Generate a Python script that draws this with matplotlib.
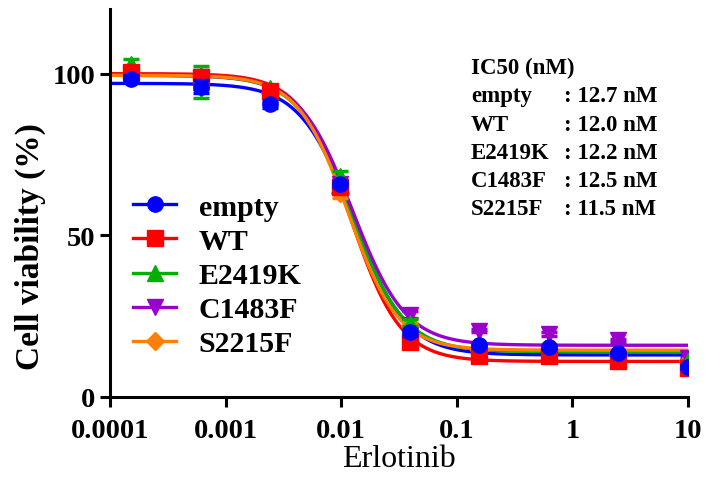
import numpy as np
import matplotlib.pyplot as plt

plt.rcParams['font.family'] = ['Liberation Serif', 'DejaVu Serif']

# Erlotinib concentrations (uM), 4-fold dilution
conc = [0.000153, 0.00061, 0.00244, 0.0098, 0.039, 0.156, 0.625, 2.5, 10]

names = ['empty', 'WT', 'E2419K', 'C1483F', 'S2215F']
colors = ['#0000ff', '#ff0000', '#00b000', '#9900cc', '#ff7f00']
markers = ['o', 's', '^', 'v', 'D']
msizes = [11, 11, 11, 11, 9]

viability = {
    'empty':  [98.5, 96.0, 90.5, 65.8, 20.0, 16.0, 15.5, 13.5, 9.3],
    'WT':     [100.5, 99.0, 94.5, 65.0, 17.0, 12.8, 12.6, 11.0, 9.0],
    'E2419K': [103.0, 97.5, 95.5, 68.5, 23.0, 15.5, 15.5, 13.5, 11.0],
    'C1483F': [100.0, 99.0, 94.0, 66.0, 25.5, 20.5, 19.5, 17.5, 12.0],
    'S2215F': [100.0, 99.0, 94.0, 63.0, 22.0, 14.5, 14.5, 13.0, 11.0],
}
errors = {
    'empty':  [1.0, 2.0, 1.0, 1.0, 1.0, 0.5, 0.5, 0.5, 0.5],
    'WT':     [2.0, 1.5, 1.0, 1.0, 1.0, 0.5, 0.5, 0.5, 0.5],
    'E2419K': [1.5, 5.0, 1.0, 1.5, 1.0, 0.5, 0.5, 0.5, 0.5],
    'C1483F': [1.0, 1.0, 1.0, 1.0, 1.0, 0.5, 0.5, 0.5, 0.5],
    'S2215F': [1.0, 1.0, 1.0, 1.5, 1.0, 0.5, 0.5, 0.5, 0.5],
}

# fitted 4PL parameters
ic50_nM = [12.7, 12.0, 12.2, 12.5, 11.5]
tops = [97.0, 100.0, 99.5, 99.5, 99.5]
bottoms = [13.0, 11.0, 14.0, 16.0, 14.5]
hill = [1.9, 2.0, 1.9, 1.9, 2.0]

fig = plt.figure(figsize=(7.08, 4.81), dpi=100)
ax = fig.add_axes([110 / 708, 83 / 481, 578 / 708, 388 / 481])

xs = np.logspace(-4, 1, 400)
order = [3, 4, 2, 1, 0]
for i in order:
    ic = ic50_nM[i] / 1000.0
    fit = bottoms[i] + (tops[i] - bottoms[i]) / (1 + (xs / ic) ** hill[i])
    ax.plot(xs, fit, color=colors[i], lw=2.4, zorder=2 + i * 0.01)
for i in order:
    n = names[i]
    ax.errorbar(conc, viability[n], yerr=errors[n], fmt=markers[i], color=colors[i],
                ms=msizes[i], capsize=6, elinewidth=2, capthick=2.5, zorder=3 + (5 - i) * 0.1)

# legend handles
handles = []
for i in range(5):
    h, = ax.plot([], [], color=colors[i], marker=markers[i], ms=msizes[i], lw=2.4)
    handles.append(h)
ax.legend(handles, names, loc='center left', bbox_to_anchor=(0.04, 0.313), frameon=False,
          prop={'weight': 'bold', 'size': 21.5}, handlelength=1.45, handletextpad=0.75,
          labelspacing=0.24, borderpad=0, borderaxespad=0)

ax.set_xscale('log')
ax.set_xlim(1e-4, 10)
ax.set_ylim(0, 120)
ax.set_xticks([1e-4, 1e-3, 1e-2, 1e-1, 1, 10])
ax.set_xticklabels(['0.0001', '0.001', '0.01', '0.1', '1', '10'])
ax.minorticks_off()
ax.set_yticks([0, 50, 100])
ax.tick_params(width=2.2, length=7, labelsize=20.5)
ax.tick_params(axis='x', pad=8)
for lbl in ax.get_xticklabels() + ax.get_yticklabels():
    lbl.set_fontweight('bold')
for s in ['top', 'right']:
    ax.spines[s].set_visible(False)
for s in ['left', 'bottom']:
    ax.spines[s].set_linewidth(2.2)

ax.set_xlabel('Erlotinib', fontsize=23)
ax.xaxis.set_label_coords(0.5, -0.122)
ax.set_ylabel('Cell viability (%)', fontsize=24, fontweight='bold')
ax.yaxis.set_label_coords(-0.11, 0.39)

# IC50 annotation
fig.text(471 / 708, 1 - 68 / 481, 'IC50 (nM)', fontsize=16.5, fontweight='bold', va='center')
for k, n in enumerate(names):
    y = 1 - (97 + k * 28.2) / 481
    fig.text(471 / 708, y, n, fontsize=16.5, fontweight='bold', va='center')
    fig.text(564 / 708, y, ': %.1f nM' % ic50_nM[k], fontsize=16.5, fontweight='bold', va='center')

fig.savefig('out.png', dpi=100)
